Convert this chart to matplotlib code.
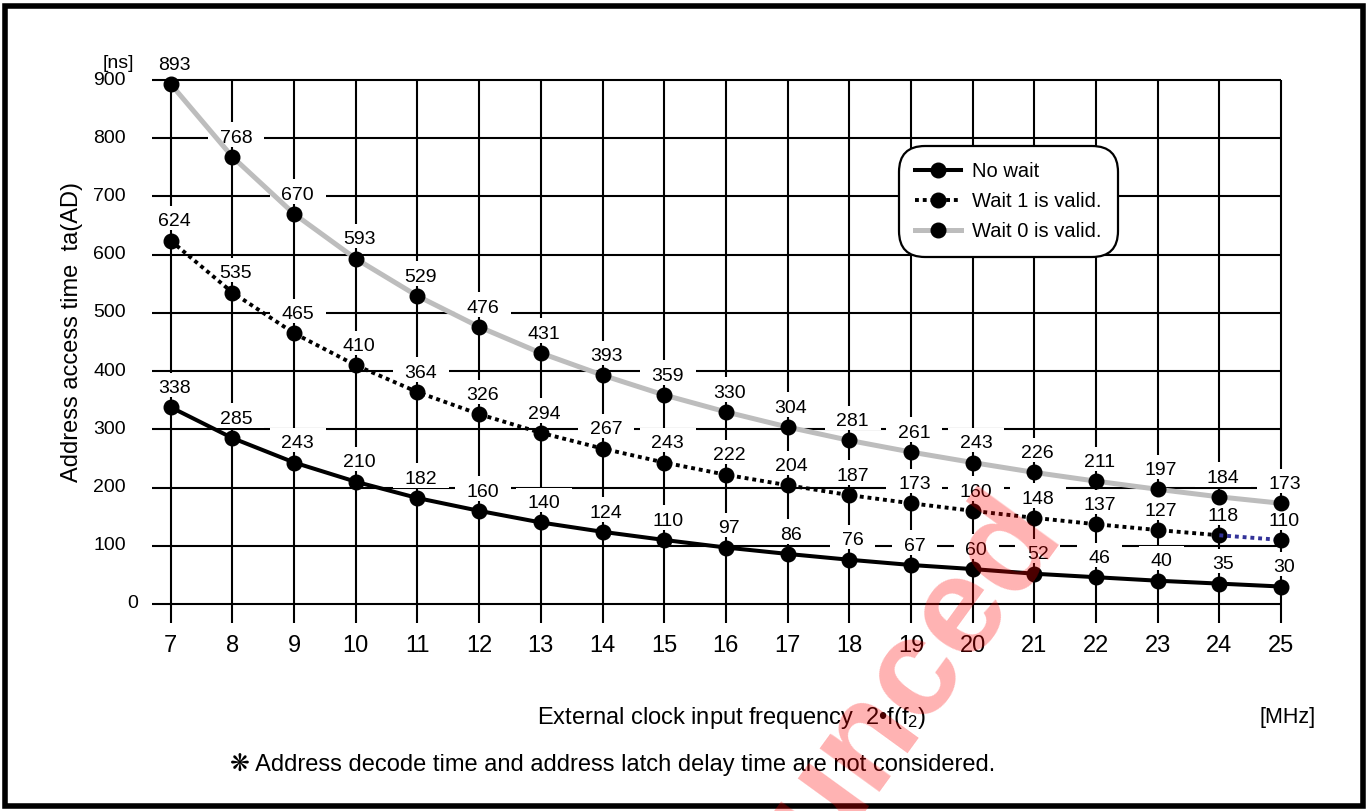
import matplotlib
matplotlib.use("Agg")
import matplotlib.pyplot as plt
from matplotlib.path import Path
import numpy as np

plt.rcParams['font.family'] = ['Liberation Sans', 'DejaVu Sans']
plt.rcParams['mathtext.fontset'] = 'custom'
plt.rcParams['mathtext.rm'] = 'Liberation Sans'

# Data
freq = [7, 8, 9, 10, 11, 12, 13, 14, 15, 16, 17, 18, 19, 20, 21, 22, 23, 24, 25]
no_wait = [338, 285, 243, 210, 182, 160, 140, 124, 110, 97, 86, 76, 67, 60, 52, 46, 40, 35, 30]
wait1 = [624, 535, 465, 410, 364, 326, 294, 267, 243, 222, 204, 187, 173, 160, 148, 137, 127, 118, 110]
wait0 = [893, 768, 670, 593, 529, 476, 431, 393, 359, 330, 304, 281, 261, 243, 226, 211, 197, 184, 173]
y_ticks = [0, 100, 200, 300, 400, 500, 600, 700, 800, 900]

W, H = 1367, 811
fig = plt.figure(figsize=(W / 100, H / 100), dpi=100)
ax = fig.add_axes([139.9 / W, 1 - 633.1 / H, 1172 / W, 582.2 / H])
ax.set_xlim(6.5, 25.5)
ax.set_ylim(-50, 950)
ax.axis('off')


def label_box(x0, y0, width, height, mutation_size):
    # white box behind a value label: more room on top than below
    px = 0.6 * mutation_size
    top = 0.38 * mutation_size
    verts = [(x0 - px, y0), (x0 + width + px, y0), (x0 + width + px, y0 + height + top),
             (x0 - px, y0 + height + top), (x0 - px, y0)]
    return Path(verts, closed=True)


# grid
for xv in freq:
    ax.plot([xv, xv], [-32, 900], color='black', lw=1.5, zorder=1, solid_capstyle='butt')
for yv in y_ticks:
    ax.plot([6.69, 25], [yv, yv], color='black', lw=1.5, zorder=1, solid_capstyle='butt')

# curves
ax.plot(freq, wait0, color='#bdbdbd', lw=3.6, marker='o', ms=10.5, mfc='black', mec='black',
        zorder=3, label='Wait 0 is valid.')
ax.plot(freq[:-1], wait1[:-1], color='black', lw=2.8, ls=(0, (1, 1)), marker='o', ms=10.5,
        mfc='black', mec='black', zorder=3, label='Wait 1 is valid.')
ax.plot(freq[-2:], wait1[-2:], color='#333399', lw=2.8, ls=(0, (1, 1)), zorder=3)
ax.plot(freq[-1:], wait1[-1:], 'o', color='black', ms=10.5, zorder=4)
ax.plot(freq, no_wait, color='black', lw=2.9, marker='o', ms=10.5, zorder=3, label='No wait')

# value labels
for series in [no_wait, wait1, wait0]:
    for xv, yv in zip(freq, series):
        ax.annotate(str(yv), (xv, yv), xytext=(2.5, 13.5), textcoords='offset points',
                    ha='center', va='center', fontsize=14, zorder=2,
                    bbox=dict(boxstyle=label_box, fc='white', ec='none'))

# tick labels
for yv in y_ticks:
    xpos = 6.47 if yv == 0 else 6.276
    ax.text(xpos, yv, str(yv), ha='right', va='center', fontsize=14)
for xv in freq:
    ax.text(xv, -72, str(xv), ha='center', va='center', fontsize=17)

# axis titles
fig.text(72 / W, 1 - 332 / H, 'Address access time  ta(AD)', rotation=90,
         ha='center', va='center', fontsize=17)
fig.text(103 / W, 1 - 64 / H, '[ns]', ha='left', va='center', fontsize=14)
fig.text(732 / W, 1 - 718 / H, 'External clock input frequency  2\u2022f(f$\\mathregular{_2}$)',
         ha='center', va='center', fontsize=17)
fig.text(1288 / W, 1 - 718 / H, '[MHz]', ha='center', va='center', fontsize=15.5)
fig.text(230 / W, 1 - 765 / H,
         '\u274b Address decode time and address latch delay time are not considered.',
         ha='left', va='center', fontsize=17)

# legend
handles, labels = ax.get_legend_handles_labels()
order = [2, 1, 0]
leg = fig.legend([handles[i] for i in order], [labels[i] for i in order],
                 loc='upper left', bbox_to_anchor=(906 / W, 1 - 153 / H),
                 fontsize=14.5, handlelength=2.3, labelspacing=0.55, borderpad=0.45,
                 handletextpad=0.55, borderaxespad=0, frameon=True, fancybox=True)
frame = leg.get_frame()
frame.set_boxstyle('round', pad=0.35, rounding_size=1.3)
frame.set_edgecolor('black')
frame.set_linewidth(1.6)
frame.set_alpha(1)
leg.set_zorder(5)

# watermark
fig.text(1062 / W, 1 - 530 / H, 'unced', rotation=54, rotation_mode='anchor',
         ha='right', va='baseline', fontsize=100, fontweight='bold', color='red', alpha=0.3,
         zorder=10)

# outer frame
fig.patches.append(plt.Rectangle((4.5 / W, 1 - 806 / H), (1362.5 - 4.5) / W, (806 - 5.5) / H,
                                 transform=fig.transFigure, fill=False, lw=4, ec='black'))

fig.savefig('out.png', dpi=100)
